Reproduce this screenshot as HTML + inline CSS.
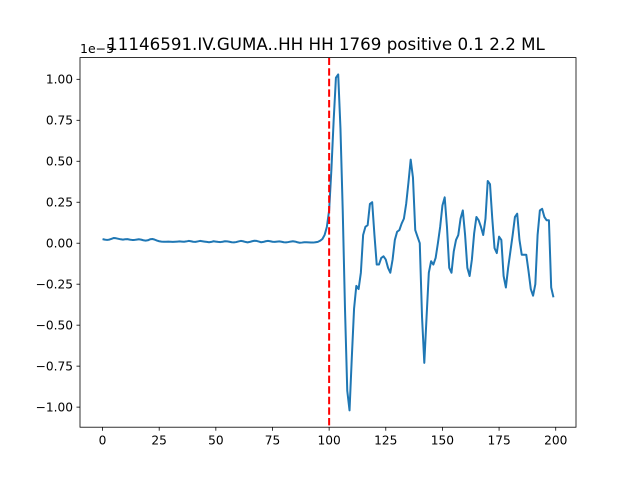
<!DOCTYPE html>
<html><head><meta charset="utf-8"><style>
body{margin:0;background:#fff}
svg{display:block;font-family:"DejaVu Sans","Liberation Sans",sans-serif}
</style></head><body>
<svg id="chart" width="640" height="480">
<rect width="640" height="480" fill="#fff"/>
<text x="326" y="50" font-size="16.7" text-anchor="middle">11146591.IV.GUMA..HH HH 1769 positive 0.1 2.2 ML</text>
<text x="80" y="53" font-size="12.5">1e−5</text>
<g id="ticks"></g>
<g id="plot"></g>
<rect x="80" y="57.6" width="496" height="369.6" fill="none" stroke="#000" stroke-width="0.8"/>
</svg>
<script>
const baseline = [0.025,0.022,0.02,0.022,0.027,0.032,0.03,0.027,0.024,0.022,0.024,0.025,0.022,0.02,0.02,0.022,0.024,0.022,0.018,0.016,0.018,0.024,0.026,0.022,0.016,0.012,0.01,0.009,0.009,0.01,0.009,0.008,0.009,0.01,0.011,0.01,0.009,0.011,0.014,0.012,0.009,0.008,0.011,0.014,0.012,0.01,0.008,0.006,0.008,0.012,0.01,0.008,0.007,0.009,0.012,0.011,0.009,0.006,0.005,0.007,0.011,0.014,0.012,0.008,0.005,0.008,0.012,0.015,0.014,0.01,0.006,0.008,0.012,0.014,0.012,0.009,0.008,0.01,0.011,0.009,0.006,0.005,0.007,0.01,0.012,0.01,0.006,0.003,0.004,0.006,0.006,0.005,0.004,0.004,0.006,0.008];
const event = [0.015,0.025,0.05,0.1,0.2,0.45,0.75,1.01,1.03,0.7,0.2,-0.4,-0.9,-1.02,-0.7,-0.4,-0.26,-0.28,-0.18,0.05,0.1,0.11,0.24,0.25,0.05,-0.13,-0.13,-0.09,-0.08,-0.1,-0.15,-0.18,-0.1,0.02,0.07,0.08,0.12,0.15,0.24,0.37,0.51,0.4,0.08,0.04,0.0,-0.45,-0.73,-0.45,-0.18,-0.11,-0.13,-0.09,0.0,0.1,0.23,0.28,0.1,-0.15,-0.18,-0.05,0.02,0.05,0.15,0.2,0.05,-0.15,-0.2,-0.1,0.06,0.16,0.14,0.1,0.05,0.15,0.38,0.36,0.15,-0.03,-0.06,0.04,0.02,-0.2,-0.27,-0.15,-0.05,0.05,0.16,0.18,0.02,-0.07,-0.07,-0.07,-0.17,-0.28,-0.32,-0.25,0.05,0.2,0.21,0.16,0.14,0.14,-0.27,-0.33];
const xTicks = [0,25,50,75,100,125,150,175,200];
const yTicks = [-1.0,-0.75,-0.5,-0.25,0.0,0.25,0.5,0.75,1.0];
const pickIndex = 100;
const values = baseline.concat(event);
const NS='http://www.w3.org/2000/svg';
const L=80,R=576,T=57.6,B=427.2;
const n=values.length;
const xmin=-0.05*(n-1), xmax=(n-1)*1.05;
let vmin=Math.min(...values), vmax=Math.max(...values), pad=(vmax-vmin)*0.05;
const ymin=vmin-pad, ymax=vmax+pad;
const X=v=>L+(v-xmin)/(xmax-xmin)*(R-L);
const Y=v=>B-(v-ymin)/(ymax-ymin)*(B-T);
const ticks=document.getElementById('ticks'), plot=document.getElementById('plot');
function mk(tag,attrs,parent){const e=document.createElementNS(NS,tag);for(const k in attrs)e.setAttribute(k,attrs[k]);parent.appendChild(e);return e;}
xTicks.forEach(t=>{const x=X(t);
 const l=mk('line',{x1:x,x2:x,y1:B,y2:B+3.5,stroke:'#000','stroke-width':0.8},ticks);
 
 
 const tx=mk('text',{x:x,y:B+17.5,'font-size':12.2,'text-anchor':'middle'},ticks);tx.textContent=t;
 
 
});
yTicks.forEach(t=>{const y=Y(t);
 const l=mk('line',{x1:L-3.5,x2:L,y1:y,y2:y,stroke:'#000','stroke-width':0.8},ticks);
 
 
 const tx=mk('text',{x:L-7,y:y+4.4,'font-size':12.2,'text-anchor':'end'},ticks);tx.textContent=t.toFixed(2).replace('-','−');
 
 
});
const d=values.map((v,i)=>(i?'L':'M')+X(i).toFixed(2)+','+Y(v).toFixed(2)).join('');
const p=mk('path',{d:d,fill:'none',stroke:'#1f77b4','stroke-width':2,'stroke-linejoin':'round'},plot);


const pl=mk('line',{x1:X(pickIndex),x2:X(pickIndex),y1:T,y2:B,stroke:'#ff0000','stroke-width':2,'stroke-dasharray':'7.4,3.2'},plot);


</script>
</body></html>
